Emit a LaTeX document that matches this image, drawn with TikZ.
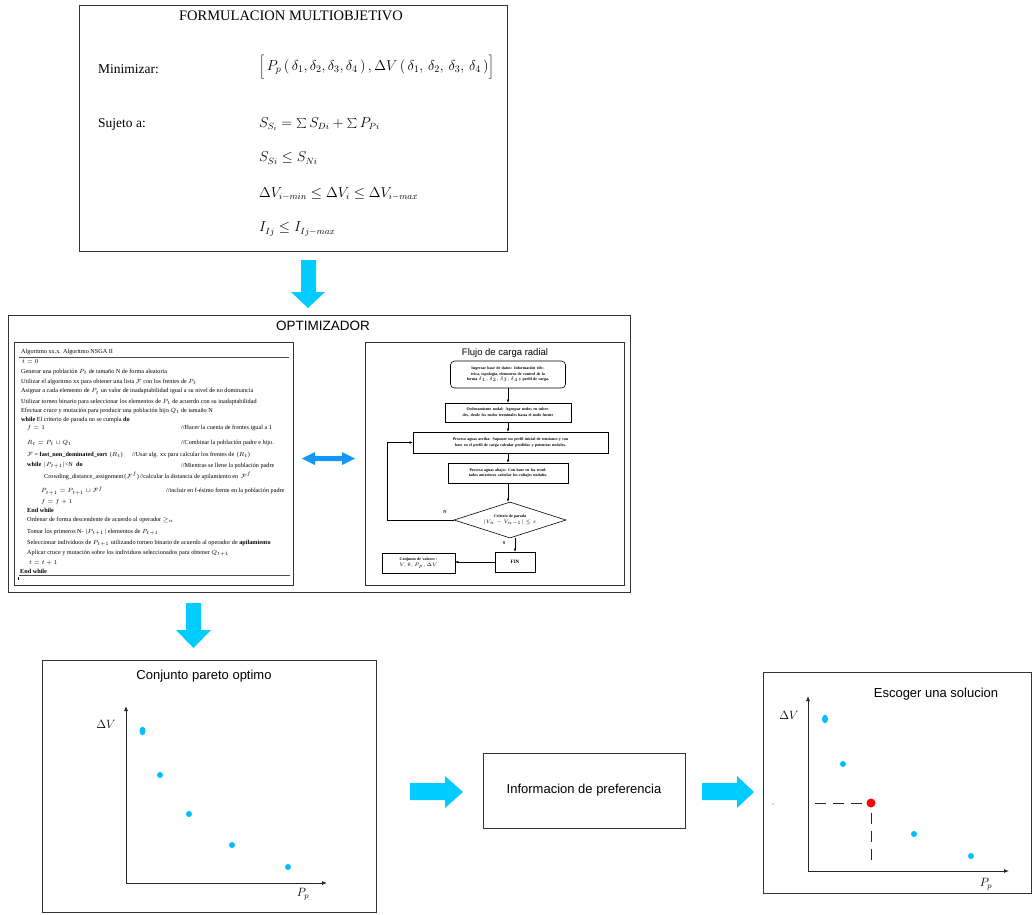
\documentclass[tikz,border=0pt]{standalone}
\usepackage{fontspec}
\setmainfont{Liberation Serif}
\setsansfont{Liberation Sans}
\usetikzlibrary{arrows.meta,shapes.geometric}

\definecolor{arrowcyan}{RGB}{0,204,255}
\definecolor{dotcyan}{RGB}{0,190,255}
\definecolor{dblblue}{RGB}{20,150,250}

\newcommand{\algfont}{\fontsize{6.2}{7}\selectfont}
\newcommand{\flowfont}{\fontsize{4}{5.2}\selectfont\bfseries}

\tikzset{
  panel/.style={draw=black!80, line width=0.9pt},
  fbox/.style={draw, line width=0.6pt, align=center, inner sep=1pt, font=\flowfont},
  flowarr/.style={-{Latex[length=3pt,width=2.6pt]}, line width=0.5pt},
  axisarr/.style={-{Latex[length=5pt,width=4pt]}, line width=0.8pt, black!85},
  paretodot/.style={circle, fill=dotcyan, inner sep=0pt, minimum size=6pt},
  bigarrow/.style={fill=arrowcyan},
  algline/.style={anchor=west, inner sep=0pt, font=\algfont},
  formtext/.style={anchor=west, inner sep=0pt, font=\fontsize{13.5}{15}\selectfont},
  sanstitle/.style={inner sep=0pt, font=\sffamily\fontsize{13}{15}\selectfont},
}

\begin{document}
\begin{tikzpicture}[x=1pt,y=-1pt]
\useasboundingbox (0,0) rectangle (1032,914);

% ---------------- multiobjective formulation ----------------
\node[panel, line width=1.3pt, minimum width=428pt, minimum height=246pt, anchor=north west, inner sep=0pt] (form) at (79,5) {};
\node[inner sep=0pt, font=\fontsize{14.5}{16}\selectfont] (formtitle) at (291,16) {FORMULACION MULTIOBJETIVO};
\node[formtext] (minlbl) at (98,69) {Minimizar:};
\node[formtext, font=\fontsize{14.5}{16}\selectfont] (objf) at (259,67) {$\bigg[\,P_p\,(\,\delta_1,\delta_2,\delta_3,\delta_4\,)\,,\Delta V\,(\,\delta_1,\,\delta_2,\,\delta_3,\,\delta_4\,)\bigg]$};
\node[formtext] (sujlbl) at (98,124) {Sujeto a:};
\node[formtext] (c1) at (259,124) {$S_{S_i}=\mathop{\textstyle\sum}S_{Di}+\mathop{\textstyle\sum}P_{Pi}$};
\node[formtext] (c2) at (259,158) {$S_{Si}\le S_{Ni}$};
\node[formtext] (c3) at (259,194) {$\Delta V_{i-min}\le \Delta V_i\le \Delta V_{i-max}$};
\node[formtext] (c4) at (259,229) {$I_{Ij}\le I_{Ij-max}$};

% arrow down to the optimizer
\fill[bigarrow] (301,260) -- (316,260) -- (316,292) -- (325,292) -- (308,308) -- (291,292) -- (301,292) -- cycle;

% ---------------- optimizer ----------------
\node[panel, minimum width=622pt, minimum height=277pt, anchor=north west, inner sep=0pt] (opt) at (8,315) {};
\node[sanstitle, font=\sffamily\fontsize{13.5}{15}\selectfont] (opttitle) at (323,326) {OPTIMIZADOR};

% NSGA II algorithm listing
\node[draw=black!80, line width=0.9pt, minimum width=279pt, minimum height=243pt, anchor=north west, inner sep=0pt] (alg) at (14,342) {};
\draw[black!70, line width=0.6pt] (19,357) -- (289,357);
\draw[black!70, line width=0.6pt] (19,575) -- (290,575);
\draw[black, line width=0.5pt] (18,576.5) -- (18,580);
\node[algline] (l0) at (21,352.5) {Algoritmo xx.x. Algoritmo NSGA II};
\node[algline] (l1) at (22,362) {$t=0$};
\node[algline] (l2) at (21,372) {Generar una población $P_t$ de tamaño N de forma aleatoria};
\node[algline] (l3) at (21,381.5) {Utilizar el algoritmo xx para obtener una lista $\mathcal{F}$ con los frentes de $P_t$};
\node[algline] (l4) at (21,391.5) {Asignar a cada elemento de $P_t$ un valor de inadaptabilidad igual a su nivel de no dominancia};
\node[algline] (l5) at (21,401.5) {Utilizar torneo binario para seleccionar los elementos de $P_t$ de acuerdo con su inadaptabilidad};
\node[algline] (l6) at (21,411) {Efectuar cruce y mutación para producir una población hijo $Q_t$ de tamaño N};
\node[algline] (l7) at (21,419.5) {\textbf{while} El criterio de parada no se cumpla \textbf{do}};
\node[algline] (l8) at (27,428) {$f=1$};
\node[algline] (l8c) at (181,428) {//Hacer la cuenta de frentes igual a 1};
\node[algline] (l9) at (27,443) {$R_t=P_t\cup Q_t$};
\node[algline] (l9c) at (181,443) {//Combinar la población padre e hijo.};
\node[algline] (l10) at (27,455) {$\mathcal{F}$ = \textbf{fast\_non\_dominated\_sort} \,($R_t$)};
\node[algline] (l10c) at (132,455) {//Usar alg. xx para calcular los frentes de \,($R_t$)};
\node[algline] (l11) at (27,465.5) {\textbf{while} \,$|P_{t+1}|$<N \ \textbf{do}};
\node[algline] (l11c) at (181,465.5) {//Mientras se llene la población padre};
\node[algline] (l12) at (44,476) {Crowding\_distance\_assignment\,($\mathcal{F}^{f}$)\,//calcular la distancia de apilamiento en \,$\mathcal{F}^{f}$};
\node[algline] (l13) at (41,491) {$P_{t+1}=P_{t+1}\cup\mathcal{F}^{f}$};
\node[algline] (l13c) at (166,491) {//incluir en f-ésimo frente en la población padre};
\node[algline] (l14) at (41,501.5) {$f=f+1$};
\node[algline] (l15) at (27,510) {\textbf{End while}};
\node[algline] (l16) at (27,519.5) {Ordenar de forma descendente de acuerdo al operador $\geq_n$};
\node[algline] (l17) at (27,532) {Tomar los primeros N- $|P_{t+1}|$ elementos de $P_{t+1}$};
\node[algline] (l18) at (27,543) {Seleccionar individuos de $P_{t+1}$ utilizando torneo binario de acuerdo al operador de \textbf{apilamiento}};
\node[algline] (l19) at (27,553) {Aplicar cruce y mutación sobre los individuos seleccionados para obtener $Q_{t+1}$};
\node[algline] (l20) at (29,563) {$t=t+1$};
\node[algline] (l21) at (20,571) {\textbf{End while}};

% exchange between the algorithm and the load flow
\fill[dblblue] (302,458.5) -- (315,452) -- (315,456) -- (342,456) -- (342,452) -- (355,458.5)
  -- (342,465) -- (342,461) -- (315,461) -- (315,465) -- cycle;

% radial load flow chart
\node[draw=black!80, line width=0.9pt, minimum width=259pt, minimum height=243pt, anchor=north west, inner sep=0pt] (flow) at (365,342) {};
\node[inner sep=0pt, font=\sffamily\fontsize{9.5}{11}\selectfont] (flowtitle) at (505,353) {Flujo de carga radial};

\node[fbox, rounded corners=4pt, minimum width=115pt, minimum height=27pt, text width=88pt] (f1) at (508,374.5)
  {Ingresar base de datos: Información eléctrica, topología, elementos de control de la forma $\delta_1,\delta_2,\delta_3,\delta_4$ y perfil de carga.};
\node[fbox, minimum width=126pt, minimum height=19pt, text width=106pt] (f2) at (508,412.5)
  {Ordenamiento nodal: Agrupar nodos en subredes, desde los nodos terminales hasta el nodo fuente};
\node[fbox, minimum width=195pt, minimum height=21pt, text width=182pt] (f3) at (510.5,442.5)
  {Proceso aguas arriba: Suponer un perfil inicial de tensiones y con base en el perfil de carga calcular perdidas y potencias nodales.};
\node[fbox, minimum width=120pt, minimum height=20pt, text width=104pt] (f4) at (508,473)
  {Proceso aguas abajo: Con base en los resultados anteriores calcular los voltajes nodales.};
\node[fbox, diamond, aspect=3.1, inner sep=0pt, minimum width=112pt, minimum height=36pt] (f5) at (510,520)
  {Criterio de parada\\[0.5pt]$|V_n-V_{n-1}|\le\varepsilon$};
\node[fbox, minimum width=40pt, minimum height=20pt, font=\fontsize{5}{6}\selectfont\bfseries] (fin) at (515,562) {FIN};
\node[fbox, minimum width=73pt, minimum height=20pt, text width=68pt] (res) at (418.5,563)
  {Conjunto de valores :\\[0.5pt] $V,\theta,P_p,\Delta V$};

\draw[flowarr] (f1.south) -- (f2.north);
\draw[flowarr] (f2.south) -- (f2.south |- f3.north);
\draw[flowarr] (f3.south -| f4.north) -- (f4.north);
\draw[flowarr] (f4.south) -- (f4.south |- f5.north);
\draw[flowarr] (f5.south -| fin.north) -- (fin.north);
\draw[flowarr] (f5.west) -- ++(-66,0) |- (f3.west);
\draw[flowarr] (fin.west) -- (fin.west -| res.east);
\node[inner sep=0pt, font=\fontsize{4.5}{5}\selectfont\bfseries] (nlbl) at (445,512) {N};
\node[inner sep=0pt, font=\fontsize{4.5}{5}\selectfont\bfseries] (slbl) at (504,543) {S};

% arrow down to the Pareto set
\fill[bigarrow] (186,603) -- (201,603) -- (201,630) -- (211,630) -- (193.5,648) -- (176,630) -- (186,630) -- cycle;

% ---------------- Pareto optimal set ----------------
\node[panel, minimum width=334pt, minimum height=252pt, anchor=north west, inner sep=0pt] (pareto) at (42,660) {};
\node[sanstitle] (paretotitle) at (204,676) {Conjunto pareto optimo};
\coordinate (po) at (126,883);
\coordinate (pytop) at (126,706);
\coordinate (pxend) at (327,883);
\draw[axisarr] (po) -- (pytop);
\draw[axisarr] (po) -- (pxend);
\node[inner sep=0pt, font=\fontsize{12}{14}\selectfont] (pdv) at (106,724) {$\Delta V$};
\node[inner sep=0pt, font=\fontsize{12}{14}\selectfont] (ppp) at (303,894) {$P_p$};
\node[paretodot, ellipse, minimum width=6pt, minimum height=8.5pt] (pa) at (142.5,731) {};
\node[paretodot] (pb) at (160,775) {};
\node[paretodot] (pc) at (189,814) {};
\node[paretodot] (pd) at (232,845) {};
\node[paretodot] (pe) at (288,867) {};

\fill[bigarrow] (410,783) -- (445,783) -- (445,776) -- (463,792) -- (445,808) -- (445,800) -- (410,800) -- cycle;

% ---------------- preference information ----------------
\node[panel, line width=1pt, minimum width=202pt, minimum height=75pt, anchor=north west, inner sep=0pt] (pref) at (483,753) {};
\node[sanstitle] (preftext) at (584,790) {Informacion de preferencia};

\fill[bigarrow] (702,783) -- (737,783) -- (737,776) -- (754,792) -- (737,808) -- (737,800) -- (702,800) -- cycle;

% ---------------- chosen solution ----------------
\node[panel, minimum width=268pt, minimum height=221pt, anchor=north west, inner sep=0pt] (choose) at (763,672) {};
\node[sanstitle] (choosetitle) at (936,694) {Escoger una solucion};
\coordinate (so) at (808,871);
\coordinate (sytop) at (808,696);
\coordinate (sxend) at (1009,871);
\draw[axisarr] (so) -- (sytop);
\draw[axisarr] (so) -- (sxend);
\node[inner sep=0pt, font=\fontsize{12}{14}\selectfont] (sdv) at (789,715) {$\Delta V$};
\node[inner sep=0pt, font=\fontsize{12}{14}\selectfont] (spp) at (986,884) {$P_p$};
\node[paretodot, ellipse, minimum width=6pt, minimum height=8.5pt] (sa) at (825,719) {};
\node[paretodot] (sb) at (843,764) {};
\node[circle, fill=red, inner sep=0pt, minimum size=9pt] (sel) at (871,803) {};
\node[paretodot] (sd) at (914,834) {};
\node[paretodot] (se) at (971,856) {};
\coordinate (selx) at (815,803);
\coordinate (sely) at (871,865);
\draw[black!85, line width=0.9pt, dash pattern=on 11pt off 7pt] (selx) -- (sel.west);
\draw[black!85, line width=0.9pt, dash pattern=on 11pt off 7pt] (sel.south) ++(0,5) -- (sely);
\fill[black!70] (773,804) circle (0.6pt);

\end{tikzpicture}
\end{document}
